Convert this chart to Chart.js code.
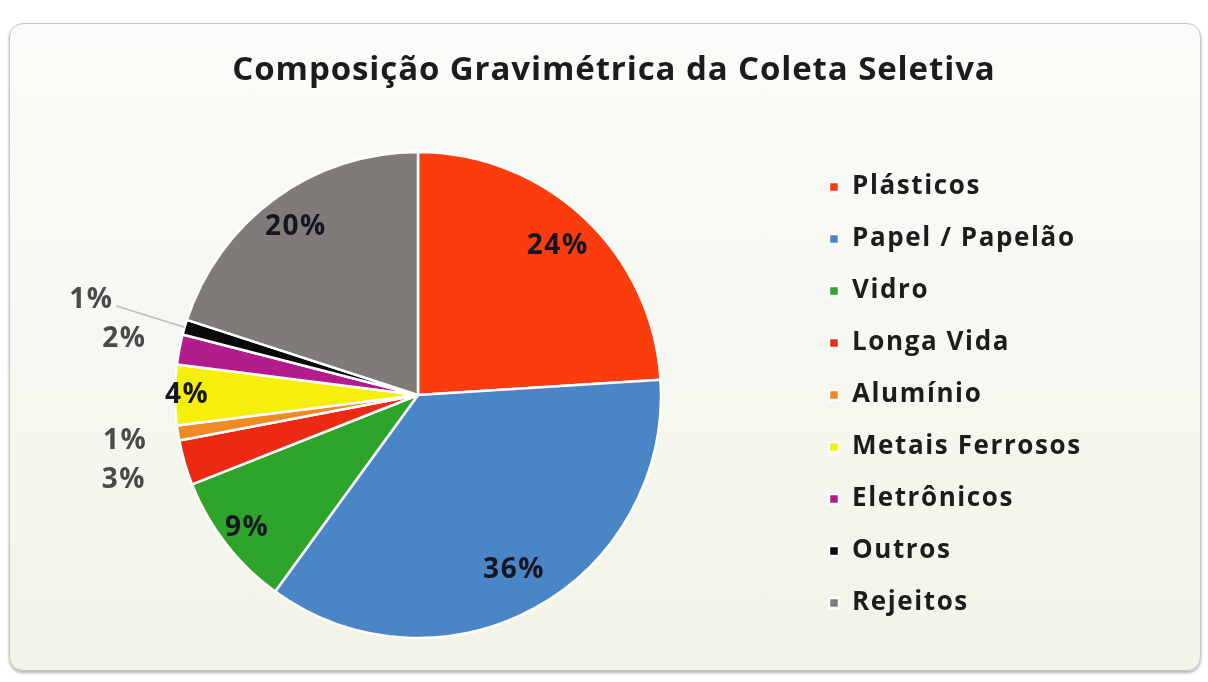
<!DOCTYPE html>
<html><head><meta charset="utf-8">
<script src="https://cdn.jsdelivr.net/npm/chart.js@4.4.0/dist/chart.umd.min.js"></script>
<style>
html,body{margin:0;padding:0;background:#fff;width:1208px;height:682px;overflow:hidden}
#card{position:absolute;left:9px;top:23px;width:1190px;height:646px;border:1px solid #c4c4c4;border-radius:14px;background:linear-gradient(#fbfbf9,#f2f4e8);box-shadow:0 2px 3px rgba(0,0,0,0.3);overflow:hidden}
canvas{display:block}
</style></head><body>
<div id="card"><canvas id="c" width="1190" height="646"></canvas></div>
<script>
const chartTitle = 'Composição Gravimétrica da Coleta Seletiva';
const categories = ['Plásticos','Papel / Papelão','Vidro','Longa Vida','Alumínio','Metais Ferrosos','Eletrônicos','Outros','Rejeitos'];
const values = [24,36,9,3,1,4,2,1,20];
const colors = ['#fb3c0c','#4a86c6','#2ea52a','#ec2a14','#f08a24','#f5ef0a','#b21c8c','#0a0a0a','#7e7b78'];
const labelRadius = [0.84,0.82,0.89,1.26,1.22,0.95,1.23,1.40,0.855];
const labelInside = [true,true,true,false,false,true,false,false,true];
const leaderLine = [false,false,false,false,false,false,false,true,false];

const FONT = '"Open Sans", Lato, sans-serif';

const spacingPlugin = {
  id: 'legendSpacing',
  beforeLayout(chart) { chart.ctx.letterSpacing = '1.6px'; },
  beforeDraw(chart) { chart.ctx.letterSpacing = '1.6px'; }
};

const titlePlugin = {
  id: 'customTitle',
  afterDraw(chart) {
    const ctx = chart.ctx;
    ctx.save();
    ctx.letterSpacing = '0.9px';
    ctx.font = 'bold 33px ' + FONT;
    ctx.fillStyle = '#1c1c1c';
    ctx.textAlign = 'center';
    ctx.textBaseline = 'middle';
    ctx.fillText(chartTitle, chart.width / 2 + 9, 47);
    ctx.restore();
  }
};

const labelPlugin = {
  id: 'pctLabels',
  afterDatasetsDraw(chart) {
    const ctx = chart.ctx;
    const meta = chart.getDatasetMeta(0);
    const total = values.reduce((a, b) => a + b, 0);
    ctx.save();
    ctx.letterSpacing = '1.5px';
    ctx.font = 'bold 28px ' + FONT;
    ctx.textAlign = 'center';
    ctx.textBaseline = 'middle';
    meta.data.forEach((arc, i) => {
      const p = arc.getProps(['x','y','startAngle','endAngle','outerRadius'], true);
      const mid = (p.startAngle + p.endAngle) / 2;
      const r = p.outerRadius * labelRadius[i];
      const lx = p.x + Math.cos(mid) * r;
      const ly = p.y + Math.sin(mid) * r;
      if (leaderLine[i]) {
        ctx.strokeStyle = '#bdbdbd';
        ctx.lineWidth = 1.5;
        ctx.beginPath();
        ctx.moveTo(lx + 25, ly + 6);
        ctx.lineTo(p.x + Math.cos(mid) * p.outerRadius, p.y + Math.sin(mid) * p.outerRadius);
        ctx.stroke();
      }
      ctx.fillStyle = labelInside[i] ? '#161620' : '#4a4a4a';
      ctx.fillText(Math.round(values[i] / total * 100) + '%', lx, ly);
    });
    ctx.restore();
  }
};

const chart = new Chart(document.getElementById('c'), {
  type: 'pie',
  data: {
    labels: categories,
    datasets: [{
      data: values,
      backgroundColor: colors,
      borderColor: '#ffffff',
      borderWidth: 2.5,
      hoverOffset: 0
    }]
  },
  options: {
    responsive: false,
    animation: false,
    radius: 243,
    layout: { padding: { top: 103, bottom: 7, left: 23, right: 0 } },
    plugins: {
      title: { display: false },
      tooltip: { enabled: false },
      legend: {
        position: 'right',
        labels: {
          boxWidth: 10,
          boxHeight: 10,
          padding: 26,
          color: '#1c1c1c',
          font: { family: FONT, size: 26, weight: 'bold' }
        }
      }
    }
  },
  plugins: [spacingPlugin, titlePlugin, labelPlugin]
});
chart.options.layout.padding.right = Math.max(0, 1190 - 793 - chart.legend.width);
chart.update('none');
</script>
</body></html>
